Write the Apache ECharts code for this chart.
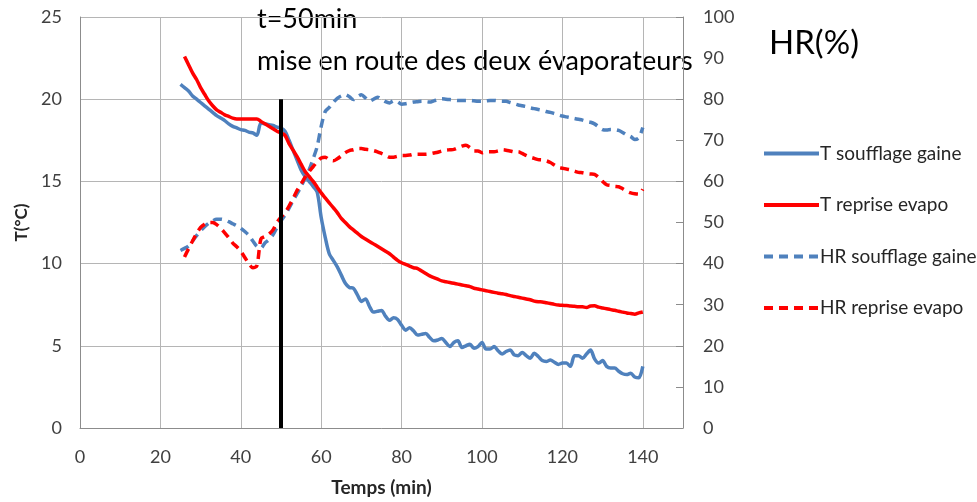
<!DOCTYPE html>
<html><head><meta charset="utf-8">
<script src="https://cdn.jsdelivr.net/npm/echarts@6/dist/echarts.min.js"></script>
<style>html,body{margin:0;padding:0;background:#fff}#c{width:977px;height:502px}</style>
</head><body><div id="c"></div>
<script>
const times = [25,26,27,28,29,30,31,32,33,34,35,36,37,38,39,40,41,42,43,44,45,46,47,48,49,50,51,52,53,54,55,56,57,58,59,60,61,62,63,64,65,66,67,68,69,70,71,72,73,74,75,76,77,78,79,80,81,82,83,84,85,86,87,88,89,90,91,92,93,94,95,96,97,98,99,100,101,102,103,104,105,106,107,108,109,110,111,112,113,114,115,116,117,118,119,120,121,122,123,124,125,126,127,128,129,130,131,132,133,134,135,136,137,138,139,140];
const tSoufflage = [20.9,20.7,20.5,20.2,20.0,19.8,19.6,19.4,19.2,19.0,18.85,18.7,18.5,18.35,18.25,18.15,18.1,18.0,17.95,17.8,18.55,18.5,18.45,18.4,18.3,18.25,18.05,17.5,16.9,16.3,15.7,15.3,15.0,14.7,14.35,12.8,11.6,10.6,10.2,9.8,9.3,8.8,8.55,8.5,8.1,7.7,7.85,7.4,7.05,7.1,7.15,6.8,6.55,6.7,6.6,6.25,5.95,6.1,5.9,5.65,5.7,5.75,5.5,5.3,5.35,5.45,5.2,4.95,5.2,5.3,4.9,5.0,5.1,4.85,4.95,5.2,4.8,4.8,4.95,4.7,4.5,4.65,4.75,4.45,4.4,4.6,4.4,4.25,4.55,4.35,4.1,4.05,4.13,4.0,3.87,3.95,3.95,3.75,4.4,4.4,4.24,4.5,4.74,4.2,3.95,4.1,3.75,3.65,3.65,3.45,3.3,3.25,3.33,3.1,3.05,3.75];
const tReprise = [null,22.6,22.1,21.6,21.2,20.7,20.3,19.9,19.6,19.35,19.2,19.05,18.95,18.85,18.8,18.8,18.8,18.8,18.8,18.8,18.65,18.5,18.35,18.2,18.05,17.95,17.8,17.3,16.9,16.5,16.05,15.6,15.3,15.0,14.65,14.3,14.0,13.7,13.4,13.1,12.75,12.5,12.25,12.05,11.85,11.65,11.5,11.35,11.2,11.05,10.9,10.75,10.6,10.4,10.2,10.05,9.95,9.85,9.75,9.7,9.55,9.4,9.25,9.15,9.05,8.95,8.9,8.85,8.8,8.75,8.7,8.65,8.6,8.5,8.45,8.4,8.35,8.3,8.25,8.2,8.17,8.12,8.05,8.0,7.95,7.9,7.85,7.8,7.72,7.68,7.67,7.62,7.57,7.52,7.48,7.46,7.45,7.42,7.4,7.38,7.37,7.33,7.42,7.43,7.35,7.3,7.25,7.2,7.16,7.1,7.05,7.0,6.96,6.92,7.0,7.06];
const hrSoufflage = [43.2,43.7,44.3,45.5,46.8,48.0,49.0,49.8,50.4,50.8,50.8,50.6,50.2,49.7,49.2,48.6,47.8,46.9,45.5,44.2,43.8,45.0,45.8,47.0,48.8,50.4,51.8,53.5,55.3,57.0,58.8,60.8,62.8,65.5,68.5,73.4,77.0,78.0,79.2,80.2,80.8,81.1,80.6,79.9,80.6,81.1,80.3,79.5,80.0,80.5,80.0,79.4,79.1,79.6,79.4,78.8,78.9,79.1,79.3,79.4,79.5,79.4,79.3,79.6,79.9,80.1,80.0,79.9,79.8,79.7,79.7,79.7,79.7,79.6,79.5,79.5,79.6,79.7,79.7,79.6,79.5,79.5,79.2,78.9,78.6,78.4,78.2,77.9,77.7,77.5,77.3,77.0,76.8,76.5,76.2,75.9,75.7,75.5,75.3,75.1,74.9,74.6,74.4,74.0,73.3,72.6,72.5,72.6,72.6,72.4,71.9,71.3,70.9,70.2,70.6,73.1];
const hrReprise = [null,41.6,43.6,45.5,47.3,48.8,49.6,50.0,50.0,49.5,48.6,47.5,46.3,45.0,44.1,43.0,41.5,40.0,39.0,39.5,46.0,46.6,47.2,48.2,50.0,51.3,52.4,54.0,55.8,57.8,59.4,61.0,62.4,63.6,64.8,65.7,65.9,65.3,65.0,65.5,66.2,67.0,67.5,67.7,68.0,68.0,67.8,67.7,67.5,67.2,66.8,66.4,65.9,65.9,66.1,66.3,66.3,66.4,66.6,66.6,66.6,66.6,66.7,66.9,67.1,67.4,67.6,67.7,67.8,68.2,68.6,68.8,68.2,67.4,67.4,67.0,67.2,67.2,67.2,67.4,67.7,67.6,67.4,67.2,67.2,66.8,66.3,65.9,65.6,65.3,65.2,65.0,64.6,64.0,63.4,63.2,63.0,62.8,62.5,62.2,62.1,61.9,61.8,61.7,61.0,60.0,59.2,59.0,58.8,58.7,58.2,57.6,57.2,57.0,56.9,58.1];
const startTime = [50, 50];
const startLineT = [0, 20];
const seriesNames = ['T soufflage gaine','T reprise evapo','HR soufflage gaine','HR reprise evapo'];

const pair = (xs, ys) => xs.map((x, i) => [x, ys[i]]);
const FONT = 'Lato, "Open Sans", sans-serif';
const BLUE = '#4F81BD', RED = '#FF0000';
const chart = echarts.init(document.getElementById('c'), null, {renderer: 'canvas'});
chart.setOption({
  animation: false,
  backgroundColor: '#fff',
  grid: {left: 80, top: 17, right: 294, bottom: 72, show: false},
  legend: {
    orient: 'vertical', left: 757, top: 139, itemWidth: 55, itemHeight: 22, itemGap: 32.5,
    itemStyle: {opacity: 0},
    lineStyle: {width: 4},
    textStyle: {fontFamily: FONT, fontSize: 19, color: '#262626', padding: [0,0,0,-4]},
    data: seriesNames
  },
  xAxis: {
    type: 'value', min: 0, max: 150, interval: 20,
    name: 'Temps (min)', nameLocation: 'middle', nameGap: 50,
    nameTextStyle: {fontFamily: FONT, fontSize: 19, fontWeight: 'bold', color: '#262626'},
    axisLine: {show: true, lineStyle: {color: '#8c8c8c'}},
    axisTick: {show: false},
    axisLabel: {fontFamily: FONT, fontSize: 18, color: '#404040', margin: 20,
      formatter: v => (v > 140 ? '' : String(v))},
    splitLine: {show: true, lineStyle: {color: '#b5b5b5', width: 1}}
  },
  yAxis: [{
    type: 'value', min: 0, max: 25, interval: 5, position: 'left',
    name: 'T(°C)', nameLocation: 'middle', nameGap: 50, nameRotate: 90,
    nameTextStyle: {fontFamily: FONT, fontSize: 17, fontWeight: 'bold', color: '#262626'},
    axisLine: {show: true, lineStyle: {color: '#8c8c8c'}},
    axisTick: {show: false},
    axisLabel: {fontFamily: FONT, fontSize: 18, color: '#404040', margin: 18},
    splitLine: {show: true, lineStyle: {color: '#b5b5b5', width: 1}}
  }, {
    type: 'value', min: 0, max: 100, interval: 10, position: 'right',
    axisLine: {show: true, lineStyle: {color: '#8c8c8c'}},
    axisTick: {show: true, inside: true, length: 7, lineStyle: {color: '#8c8c8c'}},
    axisLabel: {fontFamily: FONT, fontSize: 18, color: '#404040', margin: 20},
    splitLine: {show: false}
  }],
  series: [
    {name: seriesNames[0], type: 'line', yAxisIndex: 0, data: pair(times, tSoufflage), showSymbol: false, symbol: 'none', smooth: 0.3,
      lineStyle: {color: BLUE, width: 3.5}, itemStyle: {color: BLUE}},
    {name: seriesNames[1], type: 'line', yAxisIndex: 0, data: pair(times, tReprise), showSymbol: false, symbol: 'none', smooth: 0.3,
      lineStyle: {color: RED, width: 3.5}, itemStyle: {color: RED}},
    {name: seriesNames[2], type: 'line', yAxisIndex: 1, data: pair(times, hrSoufflage), showSymbol: false, symbol: 'none', smooth: 0.3,
      lineStyle: {color: BLUE, width: 3.5, type: [9, 6]}, itemStyle: {color: BLUE}},
    {name: seriesNames[3], type: 'line', yAxisIndex: 1, data: pair(times, hrReprise), showSymbol: false, symbol: 'none', smooth: 0.3,
      lineStyle: {color: RED, width: 3.5, type: [9, 6]}, itemStyle: {color: RED}},
    {name: 'start', type: 'line', yAxisIndex: 0, data: pair(startTime, startLineT), showSymbol: false, symbol: 'none',
      lineStyle: {color: '#000', width: 4}, z: 5}
  ],
  graphic: [
    {type: 'text', left: 257, top: 6, style: {text: 't=50min', font: '27px ' + FONT, fill: '#000'}},
    {type: 'text', left: 257, top: 48, style: {text: 'mise en route des deux évaporateurs', font: '27px ' + FONT, fill: '#000'}},
    {type: 'text', left: 769, top: 27, style: {text: 'HR(%)', font: '33px ' + FONT, fill: '#000'}}
  ]
});
</script></body></html>
